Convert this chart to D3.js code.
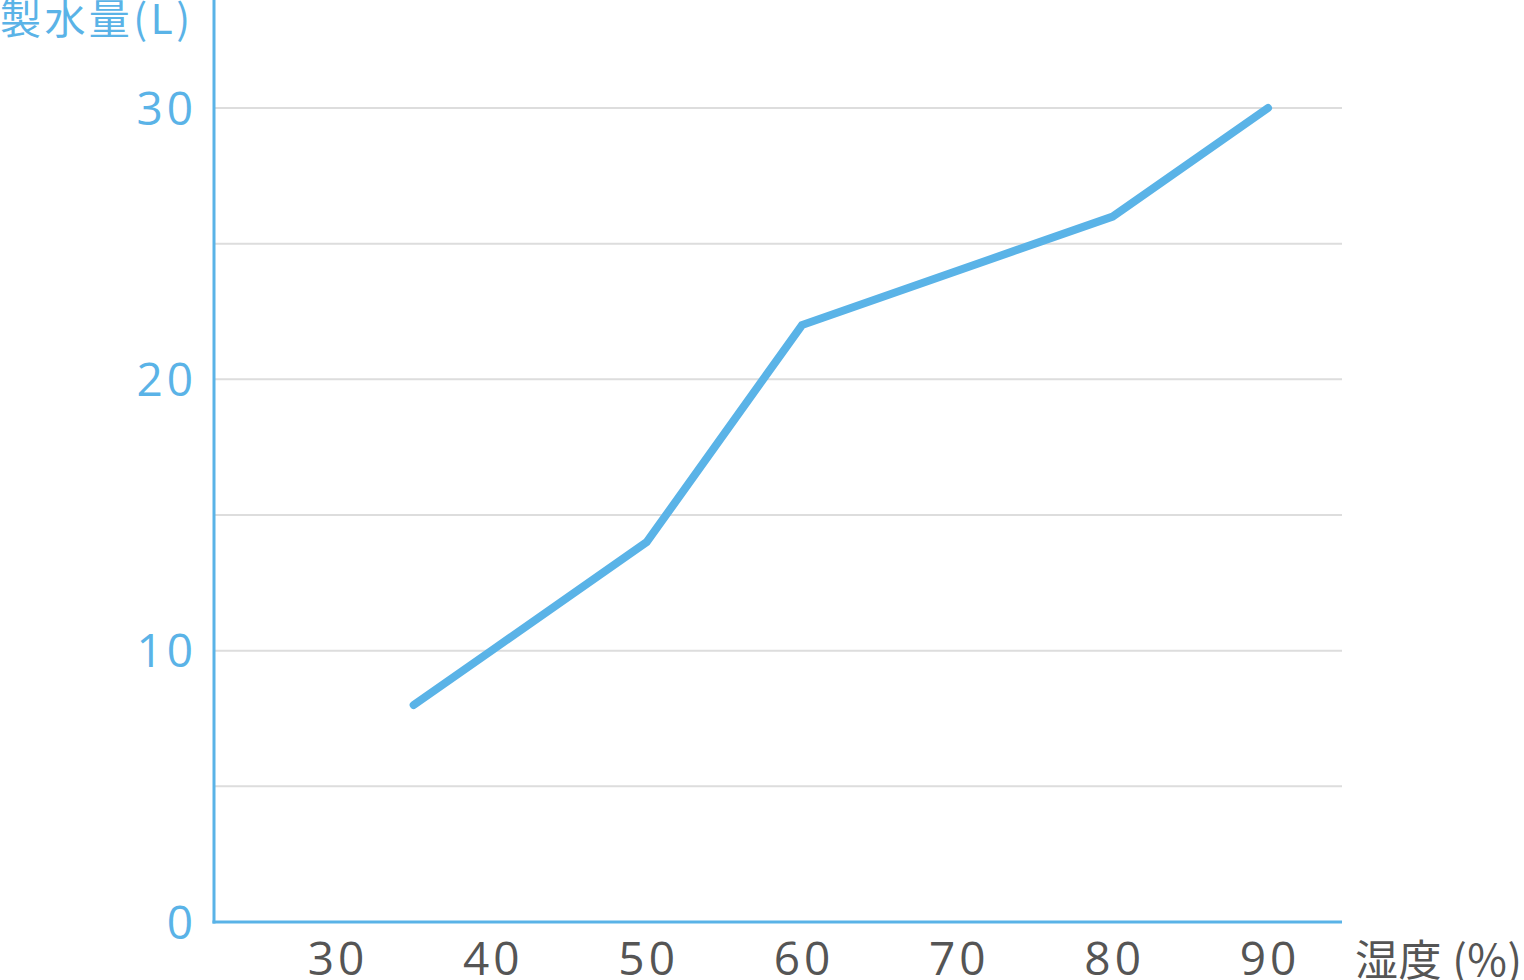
<!DOCTYPE html>
<html><head><meta charset="utf-8">
<script src="https://cdn.jsdelivr.net/npm/d3@7"></script>
<style>html,body{margin:0;padding:0;background:#fff;}svg{display:block;}</style>
</head><body>
<svg id="c" width="1524" height="980"></svg>
<script>
const humidity = [35, 40, 50, 60, 80, 90];
const waterLiters = [8, 10, 14, 22, 26, 30];
const xTicks = [30, 40, 50, 60, 70, 80, 90];
const yLabelTicks = [0, 10, 20, 30];
const yGridTicks = [5, 10, 15, 20, 25, 30];
const yTitle = "製水量(L)";
const xTitle = "湿度 (%)";

const blue = "#5ab3e7", gray = "#555555", grid = "#dddddd";
const cjk = "'Noto Sans CJK JP','Noto Sans',sans-serif";
const num = "'Open Sans','Noto Sans',sans-serif";
const svg = d3.select("#c");
const x = d3.scaleLinear().domain([30, 90]).range([336, 1268]);
const y = d3.scaleLinear().domain([0, 30]).range([922, 108]);
const x0 = 214, x1 = 1342;

svg.append("g").selectAll("line").data(yGridTicks).join("line")
  .attr("x1", x0).attr("x2", x1).attr("y1", d => y(d)).attr("y2", d => y(d))
  .attr("stroke", grid).attr("stroke-width", 2);

svg.append("line").attr("x1", x0).attr("x2", x0).attr("y1", 0).attr("y2", y(0) + 1.5)
  .attr("stroke", blue).attr("stroke-width", 3);
svg.append("line").attr("x1", x0 - 1.5).attr("x2", x1).attr("y1", y(0)).attr("y2", y(0))
  .attr("stroke", blue).attr("stroke-width", 3);

svg.append("g").selectAll("text").data(yLabelTicks).join("text")
  .attr("x", 197).attr("y", d => y(d) + 16.5)
  .attr("text-anchor", "end").attr("fill", blue).attr("letter-spacing", 4)
  .attr("font-family", num).attr("font-size", 46).text(d => d);

svg.append("g").selectAll("text").data(xTicks).join("text")
  .attr("x", d => x(d) + 2).attr("y", 975)
  .attr("text-anchor", "middle").attr("fill", gray).attr("letter-spacing", 4)
  .attr("font-family", num).attr("font-size", 46).text(d => d);

svg.append("text").attr("x", 1355).attr("y", 976).attr("fill", gray)
  .attr("font-family", cjk).attr("font-size", 43)
  .attr("textLength", 167).attr("lengthAdjust", "spacing").text(xTitle);
svg.append("text").attr("x", 0).attr("y", 34).attr("fill", blue)
  .attr("font-family", cjk).attr("font-size", 41)
  .attr("textLength", 190).attr("lengthAdjust", "spacing").text(yTitle);

const line = d3.line().x(d => x(d[0])).y(d => y(d[1]));
svg.append("path").datum(humidity.map((h, i) => [h, waterLiters[i]]))
  .attr("d", line).attr("fill", "none").attr("stroke", blue)
  .attr("stroke-width", 8).attr("stroke-linecap", "round").attr("stroke-linejoin", "miter");
</script>
</body></html>
